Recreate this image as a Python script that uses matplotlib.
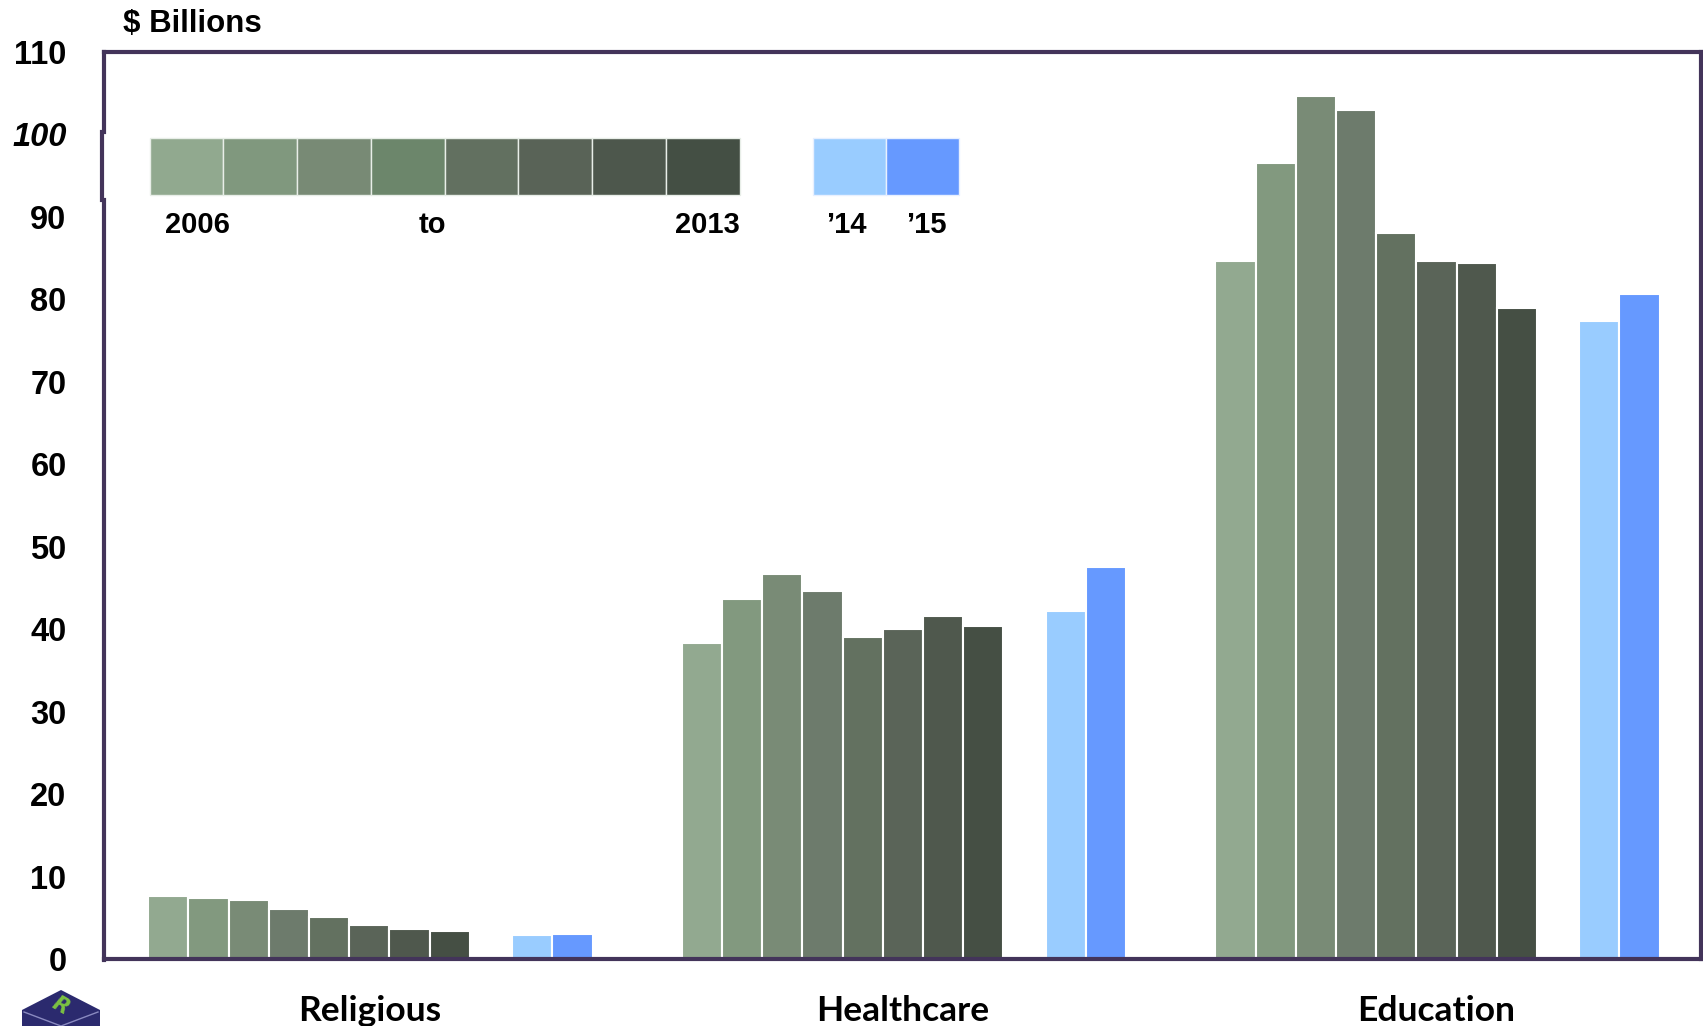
"""
Nonprofit bond issuance by sector, 2006-2015 ($ billions)
"""

import matplotlib.pyplot as plt
import matplotlib.patches as mpatches
import matplotlib.transforms as mtransforms
import numpy as np

# Data
sectors = ['Religious', 'Healthcare', 'Education']
years = ['2006', '2007', '2008', '2009', '2010', '2011', '2012', '2013']
hist_values = [
    [7.6, 7.4, 7.1, 6.1, 5.1, 4.1, 3.6, 3.4],          # Religious
    [38.3, 43.6, 46.7, 44.6, 39.1, 40.0, 41.6, 40.4],  # Healthcare
    [84.7, 96.5, 104.7, 103.0, 88.1, 84.7, 84.4, 79.0],  # Education
]
recent_labels = ["\u201914", "\u201915"]
recent_values = [
    [2.9, 3.0],
    [42.2, 47.6],
    [77.4, 80.7],
]
yticks = [0, 10, 20, 30, 40, 50, 60, 70, 80, 90, 100, 110]

year_colors = ['#92A990', '#82997F', '#798B76', '#6D7B6C',
               '#637160', '#5A6458', '#4F584D', '#454F44']
legend_year_colors = ['#91A98F', '#80987E', '#788A75', '#6C866B',
                      '#627060', '#596357', '#4D574C', '#444F44']
recent_colors = ['#99CCFF', '#6699FF']
frame_color = '#43345A'

fig = plt.figure(figsize=(17.03, 10.26), dpi=100)
ax = fig.add_axes([104 / 1703, 67 / 1026, 1597 / 1703, 907 / 1026])

group_step = 13.27
for g, sector in enumerate(sectors):
    base = g * group_step
    xs = base + np.arange(len(years)) + 0.5
    ax.bar(xs, hist_values[g], width=1.0, color=year_colors,
           edgecolor='white', linewidth=1.5)
    xr = base + np.array([9.55, 10.55])
    ax.bar(xr, recent_values[g], width=1.0, color=recent_colors,
           edgecolor='white', linewidth=1.5)

ax.set_xlim(-1.1, 2 * group_step + 11 + 1.08)
ax.set_ylim(0, 110)
ax.set_yticks(yticks)
ax.set_xticks([])
ax.tick_params(axis='y', length=0, pad=27)
for lab in ax.get_yticklabels():
    lab.set_fontfamily('Liberation Sans')
    lab.set_fontweight('bold')
    lab.set_fontsize(23.5)
    if lab.get_text() == '100':
        lab.set_fontstyle('italic')

for side in ['top', 'right', 'bottom']:
    ax.spines[side].set_color(frame_color)
    ax.spines[side].set_linewidth(3)
ax.spines['left'].set_visible(False)

# left frame line (with the small jog seen in the original)
fx = 104 / 1703
ax.add_line(plt.Line2D([fx, fx], [1 - 52 / 1026, 1 - 132 / 1026], transform=fig.transFigure,
                       color=frame_color, linewidth=3, clip_on=False))
ax.add_line(plt.Line2D([fx - 2 / 1703, fx - 2 / 1703], [1 - 132 / 1026, 1 - 200 / 1026],
                       transform=fig.transFigure, color=frame_color, linewidth=3, clip_on=False))
ax.add_line(plt.Line2D([fx, fx], [1 - 200 / 1026, 1 - 960 / 1026], transform=fig.transFigure,
                       color=frame_color, linewidth=3, clip_on=False))

# Sector labels under each group
trans = mtransforms.blended_transform_factory(ax.transData, ax.transAxes)
for g, sector in enumerate(sectors):
    ax.text(g * group_step + 5.5, -0.057, sector, transform=trans, ha='center', va='center',
            fontsize=25.5, fontweight='bold', family='Lato')

# Units label
fig.text(123 / 1703, 1 - 24 / 1026, '$ Billions', ha='left', va='center',
         fontsize=22.5, fontweight='bold', family='Liberation Sans')

# Legend strip
y0, h = 0.842, 0.0635
w = 0.04617
for i, c in enumerate(legend_year_colors):
    ax.add_patch(mpatches.Rectangle((0.0286 + i * w, y0), w, h, transform=ax.transAxes,
                                    facecolor=c, edgecolor='#E8EEE8', linewidth=1))
for i, c in enumerate(recent_colors):
    ax.add_patch(mpatches.Rectangle((0.4442 + i * 0.0456, y0), 0.0456, h, transform=ax.transAxes,
                                    facecolor=c, edgecolor='#E8F0FF', linewidth=1))
legend_text = [(0.0585, years[0]), (0.2054, 'to'), (0.3776, years[-1]),
               (0.4646, recent_labels[0]), (0.515, recent_labels[1])]
for x, t in legend_text:
    ax.text(x, 0.809, t, transform=ax.transAxes, ha='center', va='center',
            fontsize=21, fontweight='bold', family='Liberation Sans')

# Small cube logo, bottom-left corner (cut off by the image edge)
sx, sy = 1 / 1703, 1 / 1026
logo = mpatches.Polygon([(22, 1026), (22, 1010), (61, 990), (100, 1010), (100, 1026)],
                        closed=True, facecolor='#2B2A6E', edgecolor='none')
logo.set_transform(mtransforms.Affine2D().scale(sx, -sy).translate(0, 1) + fig.transFigure)
fig.patches.append(logo)
fig.add_artist(plt.Line2D([24 * sx, 61 * sx, 98 * sx], [1 - 1012 * sy, 1 - 1026 * sy, 1 - 1012 * sy],
                          transform=fig.transFigure, color='#8A8AC0', linewidth=1))
fig.text(61 * sx, 1 - 1006 * sy, 'R', ha='center', va='center', fontsize=15,
         fontweight='bold', fontstyle='italic', color='#7CC242', rotation=-30)

fig.savefig('out.png', dpi=100, facecolor='white')
